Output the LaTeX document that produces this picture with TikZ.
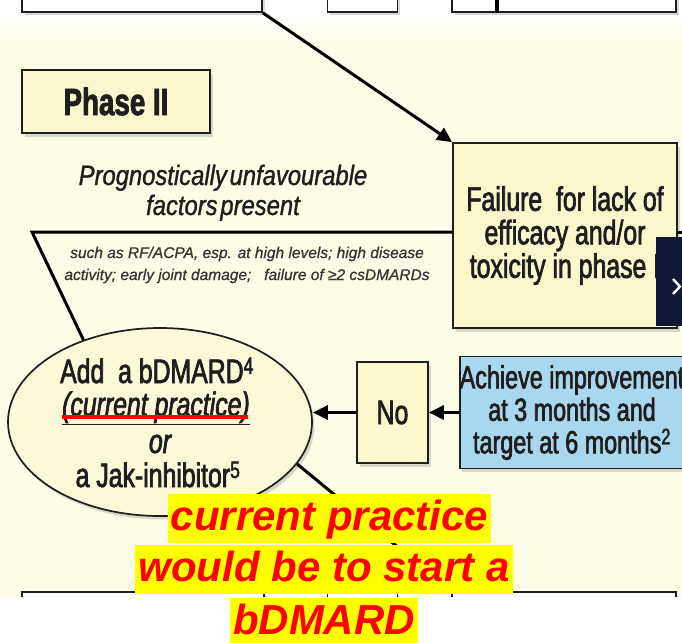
\documentclass[tikz,border=0pt]{standalone}
\usepackage{fontspec}
\setmainfont{Liberation Sans}
\newfontfamily\narrowsf{Liberation Sans}[FakeStretch=0.73, FakeBold=2]
\newfontfamily\promptsf{Liberation Sans}[FakeStretch=0.85, FakeBold=1.2]
\newfontfamily\notesf{Liberation Sans}[FakeBold=0.8]
\usetikzlibrary{shapes.geometric,arrows.meta,shadows}

\definecolor{paper}{HTML}{FDFCE7}
\definecolor{panel}{HTML}{FAF7CC}
\definecolor{ovalfill}{HTML}{FBF9D8}
\definecolor{skyfill}{HTML}{A9D7F0}
\definecolor{ink}{HTML}{1E1E1E}
\definecolor{navy}{HTML}{101838}
\definecolor{marker}{HTML}{FFFF00}
\definecolor{alert}{HTML}{FF0000}

\begin{document}
\begin{tikzpicture}[x=1pt,y=-1pt,
  boxshadow/.style={drop shadow={shadow xshift=2.5pt, shadow yshift=-3.5pt, opacity=0.3}},
  panelbox/.style={draw=ink, line width=1.7pt, fill=panel, rectangle, inner sep=0pt, boxshadow},
  edgebox/.style={panelbox, fill=white},
  conn/.style={draw=black, line width=3pt},
  tip/.style={-{Triangle[length=15pt,width=14pt]}},
  boxtext/.style={text=ink, align=center, font=\narrowsf\fontsize{34}{33.5}\selectfont},
  ovaltext/.style={text=ink, inner sep=0pt, anchor=base, font=\narrowsf\fontsize{34}{34}\selectfont},
  promptline/.style={text=ink, inner sep=0pt, anchor=base, font=\promptsf\itshape\fontsize{28}{31}\selectfont},
  noteline/.style={text=ink!90, inner sep=0pt, anchor=base, font=\notesf\itshape\fontsize{15.5}{18}\selectfont},
  highlight/.style={fill=marker, text=alert, anchor=base, inner xsep=3pt, inner ysep=2pt,
    text height=34pt, text depth=11pt, font=\fontsize{42}{50}\selectfont\bfseries\itshape},
  redbar/.style={draw=alert, line width=4pt}
]
\useasboundingbox (0,0) rectangle (682,642);
\clip (0,0) rectangle (682,642);

% page background
\fill[white] (0,0) rectangle (682,642);
\shade[top color=white, bottom color=paper] (0,10) rectangle (682,45);
\fill[paper] (0,45) rectangle (682,597);

% boxes of the previous phase, cut at the top edge
\node[edgebox, minimum width=240pt, minimum height=40pt] (prevA) at (142,-8) {};
\node[edgebox, minimum width=70pt, minimum height=40pt] (prevB) at (362.5,-8) {};
\node[edgebox, minimum width=224pt, minimum height=40pt] (prevC) at (564,-8) {};
\coordinate (feedTop) at (497,0);
\draw[conn, line width=4pt] (feedTop) -- (feedTop |- prevC.south);

% boxes of the next step, cut at the bottom edge
\node[edgebox, minimum width=242pt, minimum height=40pt] (nextA) at (143,612) {};
\node[edgebox, minimum width=70pt, minimum height=40pt] (nextB) at (362.5,612) {};
\node[edgebox, minimum width=224pt, minimum height=40pt] (nextC) at (564,612) {};

% Phase II heading
\node[panelbox, minimum width=188pt, minimum height=63pt, text=ink,
      font=\narrowsf\bfseries\fontsize{38}{40}\selectfont] (phase) at (116,101.5) {Phase II};

% failure box
\node[panelbox, minimum width=224pt, minimum height=185pt, boxtext] (fail) at (565,235.5)
  {Failure\ \ for lack of\\efficacy and/or\\toxicity in phase I};

% prognostic factors
\node[promptline] (progA) at (223,185) {Prognostically\hspace{0.1em}unfavourable};
\node[promptline] (progB) at (223,215) {factors\hspace{0.1em}present};
\node[noteline] (noteA) at (247,258) {such as RF/ACPA, esp. at high levels; high disease};
\node[noteline] (noteB) at (247,280) {activity; early joint damage;\ \ \ failure of ≥2 csDMARDs};

% therapy oval
\node[draw=ink, line width=1.7pt, fill=ovalfill, ellipse, minimum width=304pt,
      minimum height=188pt, inner sep=0pt, boxshadow] (oval) at (160,422) {};
\node[ovaltext] (ovA) at (157,383) {Add\ \ a bDMARD\textsuperscript{4}};
\node[ovaltext] (ovB) at (156,416) {\itshape\underline{(current practice)}};
\node[ovaltext] (ovC) at (160,453) {\itshape or};
\node[ovaltext] (ovD) at (158,487) {a Jak-inhibitor\textsuperscript{5}};
\draw[redbar] ([yshift=-1pt]ovB.base west) -- ([yshift=-1pt,xshift=-2pt]ovB.base east);

% decision boxes
\node[panelbox, minimum width=71pt, minimum height=101pt, boxtext,
      font=\narrowsf\fontsize{34}{34}\selectfont] (no) at (392.5,412.5) {No};
\node[panelbox, fill=skyfill, minimum width=224pt, minimum height=112pt, boxtext,
      font=\narrowsf\fontsize{32}{32.5}\selectfont] (sky) at (572,412.5)
  {Achieve improvement\\at 3 months and\\target at 6 months\textsuperscript{2}};

% connectors
\coordinate (bend) at (32,232);
\draw[conn] (oval.133) -- (bend) -- (bend -| fail.west);
\draw[conn] (fail.east |- bend) -- ++(10,0);
\draw[conn, tip] (prevA.south east) -- (fail.north west);
\draw[conn, tip] (sky.west) -- (no.east);
\draw[conn, tip] (no.west) -- (no.west -| oval.east);
\draw[conn, tip] (oval.-17) -- (nextC.north west);

% navigation tab at the right edge
\fill[navy] (656,237) rectangle (684,326);
\draw[white, line width=2.4pt] (673,279) -- (680,286.5) -- (673,294);

% white band at the bottom
\fill[white] (0,597) rectangle (682,642);

% highlighted remark
\node[highlight] (hlA) at (329.5,530) {current practice\ };
\node[highlight] (hlB) at (324,581) {would be to start a};
\node[highlight] (hlC) at (324,634) {bDMARD};
\end{tikzpicture}
\end{document}
